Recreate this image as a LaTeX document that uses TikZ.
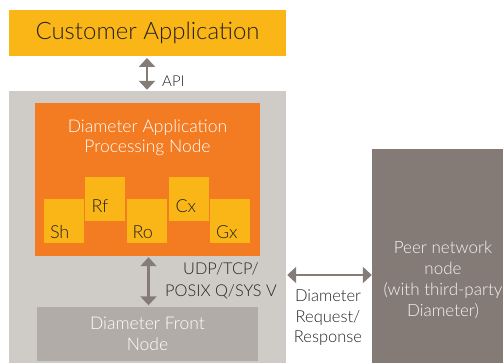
\documentclass[tikz,border=0pt]{standalone}
\usepackage{fontspec}
\setmainfont{Lato}[UprightFont=* Light, BoldFont=*]
\usetikzlibrary{arrows.meta}

\definecolor{sapgold}{RGB}{250,182,22}
\definecolor{saporange}{RGB}{243,123,34}
\definecolor{lightgrey}{RGB}{207,204,200}
\definecolor{midgrey}{RGB}{177,172,167}
\definecolor{peergrey}{RGB}{133,123,118}
\definecolor{arrowgrey}{RGB}{134,124,119}
\definecolor{textdark}{RGB}{38,34,34}

\tikzset{
  blockbox/.style={rectangle, inner sep=0pt, align=center},
  ifbox/.style={blockbox, fill=sapgold, minimum width=40pt, minimum height=44pt},
  iflabel/.style={anchor=base west, inner sep=0pt, text=textdark,
    font=\fontsize{18}{21}\selectfont},
  biarrow/.style={arrowgrey, line width=2.4pt,
    {Triangle[width=16pt,length=9pt]}-{Triangle[width=16pt,length=9pt]}},
  lbl/.style={align=center, inner sep=0pt, text=textdark}
}

\begin{document}
\begin{tikzpicture}[x=1pt,y=-1pt]
      \clip (0,0) rectangle (503,362);

      % Draw the customer application
      \node[blockbox, fill=sapgold, minimum width=277pt, minimum height=46.5pt,
      text=textdark, font=\fontsize{24}{30}\selectfont] (cust) at (147.5,33)
      {Customer Application};

      % Draw the grey container and the processing node
      \node[blockbox, fill=lightgrey, minimum width=277pt,
      minimum height=280pt] (outer) at (147.5,231) {};
      \node[blockbox, fill=saporange, minimum width=225pt,
      minimum height=153pt] (dapn) at (147.5,179.5) {};
      \node[lbl, text=white, font=\fontsize{17.5}{20.5}\selectfont] (dapntitle)
      at (147.5,138) {Diameter Application\\Processing Node};

      % Draw the interface boxes
      \node[ifbox] (sh) at (64,221) {};
      \node[ifbox] (rf) at (105,199) {};
      \node[ifbox] (ro) at (146.5,221) {};
      \node[ifbox] (cx) at (189,199) {};
      \node[ifbox] (gx) at (230,221) {};
      \node[iflabel] (shtxt) at ([shift={(6,-5)}]sh.south west) {Sh};
      \node[iflabel] (rftxt) at ([shift={(6.5,-8.5)}]rf.south west) {Rf};
      \node[iflabel] (rotxt) at ([shift={(6,-5)}]ro.south west) {Ro};
      \node[iflabel] (cxtxt) at ([shift={(6.5,-8.5)}]cx.south west) {Cx};
      \node[iflabel] (gxtxt) at ([shift={(6,-5)}]gx.south west) {Gx};

      % Draw the front node and the peer node
      \node[blockbox, fill=midgrey, minimum width=221pt, minimum height=54pt,
      text=white, font=\fontsize{17.5}{20.7}\selectfont] (front) at (147.5,334)
      {Diameter Front\\Node};
      \node[blockbox, fill=peergrey, minimum width=142pt, minimum height=262pt,
      text=white!92!peergrey, font=\fontsize{17}{21}\selectfont] (peer)
      at (443,280) {Peer network\\node\\(with third-party\\Diameter)};

      % Draw the arrows between the nodes
      \draw[biarrow, shorten <=1.5pt, shorten >=1pt] (cust.south -| 147,0)
      -- (outer.north -| 147,0) node[lbl, right, pos=0.72, xshift=14pt,
      font=\fontsize{15}{18}\selectfont] (api) {API};
      \draw[biarrow, shorten <=1pt, shorten >=1.5pt] (dapn.south -| 148.5,0)
      -- (front.north -| 148.5,0);
      \node[lbl, font=\fontsize{16.3}{22}\selectfont] (udp) at (221,281)
      {UDP/TCP/\\POSIX Q/SYS V};
      \coordinate (dia) at (0,275);
      \draw[biarrow, shorten <=1pt] (outer.east |- dia) -- (peer.west |- dia);
      \node[lbl, font=\fontsize{16.5}{20.5}\selectfont] (diatxt) at (328,318)
      {Diameter\\Request/\\Response};
\end{tikzpicture}
\end{document}
